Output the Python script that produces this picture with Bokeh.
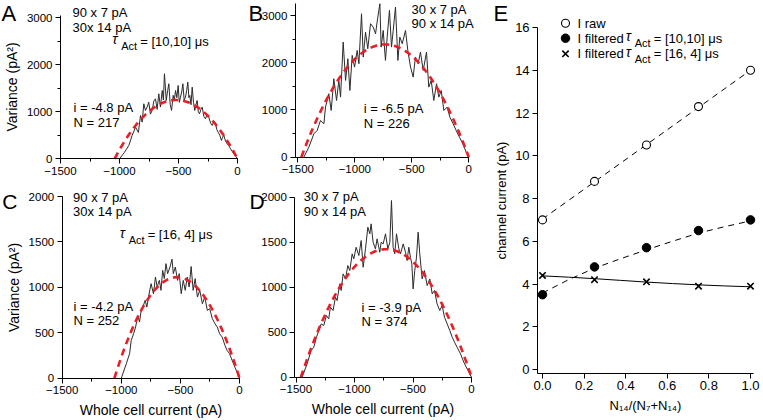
import numpy as np
from bokeh.plotting import figure
from bokeh.layouts import row, column
from bokeh.models import Label, SingleIntervalTicker, Range1d, NumeralTickFormatter
from bokeh.embed import file_html
from bokeh.resources import INLINE

FONT = "Liberation Sans"

# ---------------- data: variance vs whole-cell current (I pA, variance pA^2) -------------
A_trace = [(-1000, 0), (-960, 130), (-921, 283), (-893, 496), (-864, 672), (-840, 560), (-822, 921),
           (-808, 780), (-794, 1170), (-780, 1028), (-766, 1100), (-752, 1204), (-738, 950), (-723, 1028),
           (-709, 1230), (-695, 1276), (-681, 1050), (-667, 1383), (-653, 1100), (-638, 1453), (-628, 1250),
           (-619, 1809), (-604, 1240), (-592, 1450), (-582, 1596), (-570, 1150), (-559, 1028), (-545, 1350),
           (-535, 1250), (-525, 1453), (-514, 1300), (-503, 1560), (-493, 1200), (-483, 1311), (-473, 1420),
           (-463, 1596), (-452, 1250), (-441, 1311), (-431, 1450), (-421, 1630), (-412, 1300), (-404, 1347),
           (-394, 1150), (-384, 1523), (-373, 1200), (-362, 1028), (-352, 1150), (-342, 1240), (-332, 1000),
           (-322, 957), (-310, 1050), (-299, 1098), (-285, 900), (-271, 851), (-257, 950), (-243, 880),
           (-228, 760), (-214, 709), (-200, 800), (-186, 745), (-175, 620), (-164, 566), (-150, 500),
           (-136, 389), (-126, 460), (-116, 496), (-102, 380), (-88, 319), (-74, 280), (-59, 213),
           (-45, 160), (-31, 106), (-15, 50), (0, 0)]

B_trace = [(-1447, 0), (-1403, 213), (-1359, 495), (-1330, 566), (-1301, 778), (-1271, 707), (-1257, 1060),
           (-1228, 1343), (-1207, 990), (-1184, 1661), (-1160, 1201), (-1140, 1625), (-1125, 1272),
           (-1102, 2437), (-1081, 1625), (-1061, 2084), (-1043, 1413), (-1023, 2155), (-1002, 1908),
           (-979, 2261), (-964, 1978), (-941, 3037), (-926, 2120), (-906, 2649), (-886, 2296), (-862, 2826),
           (-839, 2755), (-818, 2614), (-798, 2967), (-780, 3249), (-769, 2331), (-751, 2684), (-731, 2049),
           (-716, 2543), (-696, 3108), (-678, 2331), (-663, 2684), (-643, 3179), (-622, 2049), (-605, 2543),
           (-584, 2402), (-555, 2684), (-535, 2261), (-511, 1908), (-488, 1696), (-468, 2120), (-444, 1978),
           (-424, 2225), (-400, 1837), (-371, 2225), (-351, 1484), (-330, 1625), (-307, 1201), (-283, 1555),
           (-263, 1272), (-242, 1413), (-219, 990), (-190, 1060), (-166, 848), (-137, 707), (-111, 566),
           (-82, 425), (-52, 283), (-23, 107), (0, 0)]

C_trace = [(-1000, 0), (-958, 158), (-930, 269), (-916, 416), (-896, 489), (-879, 563), (-860, 691),
           (-846, 618), (-832, 746), (-818, 783), (-798, 857), (-784, 783), (-762, 949), (-748, 1040),
           (-728, 930), (-711, 1114), (-697, 1004), (-678, 1077), (-664, 967), (-650, 1187), (-636, 1096),
           (-622, 1261), (-608, 1151), (-588, 1224), (-571, 1310), (-560, 1151), (-543, 1224), (-524, 1077),
           (-510, 1151), (-493, 930), (-476, 1077), (-459, 967), (-442, 1114), (-426, 1004), (-409, 1230),
           (-392, 967), (-375, 1096), (-356, 893), (-336, 967), (-314, 820), (-294, 893), (-272, 746),
           (-252, 765), (-230, 655), (-207, 599), (-188, 563), (-168, 489), (-146, 452), (-123, 361),
           (-104, 305), (-84, 269), (-62, 195), (-39, 122), (0, 0)]

D_trace = [(-1448, 0), (-1405, 148), (-1371, 296), (-1348, 333), (-1325, 444), (-1305, 518), (-1285, 592),
           (-1263, 574), (-1240, 685), (-1220, 648), (-1206, 778), (-1183, 741), (-1163, 889), (-1149, 852),
           (-1126, 1037), (-1114, 963), (-1097, 1148), (-1077, 1092), (-1057, 1241), (-1040, 1185),
           (-1020, 1370), (-1006, 1315), (-986, 1444), (-963, 1352), (-943, 1518), (-926, 1222), (-906, 1426),
           (-886, 1667), (-869, 1593), (-858, 1704), (-841, 1500), (-821, 1426), (-807, 1537), (-784, 1389),
           (-772, 1500), (-755, 1481), (-735, 1593), (-715, 1426), (-698, 1500), (-684, 1963), (-670, 1444),
           (-656, 1370), (-641, 1593), (-621, 1426), (-607, 1370), (-584, 1481), (-564, 1389), (-550, 1296),
           (-536, 1444), (-522, 1333), (-510, 1259), (-499, 981), (-485, 1185), (-470, 1333), (-456, 1611),
           (-442, 1370), (-422, 1092), (-402, 1185), (-379, 1018), (-356, 1092), (-336, 926), (-316, 963),
           (-294, 815), (-271, 741), (-251, 796), (-231, 667), (-208, 592), (-185, 518), (-165, 444),
           (-145, 389), (-123, 333), (-94, 259), (-66, 167), (-37, 92), (0, 0)]

# single-channel current i (pA) and channel number N of each parabolic fit
fit_i = [-4.8, -6.5, -4.2, -3.9]
fit_N = [217, 226, 252, 374]

# ---------------- data: panel E ----------------
E_frac = [0.0, 0.25, 0.5, 0.75, 1.0]
E_raw = [7.0, 8.8, 10.5, 12.3, 14.0]
E_filt_10_10 = [3.5, 4.8, 5.7, 6.5, 7.0]
E_filt_16_4 = [4.4, 4.2, 4.1, 3.9, 3.9]
# fitted curves
E_fit_x = [0.0, 0.125, 0.25, 0.375, 0.5, 0.625, 0.75, 0.875, 1.0]
E_fit_raw = [7.04, 7.91, 8.78, 9.65, 10.52, 11.39, 12.26, 13.13, 14.0]
E_fit_10_10 = [3.58, 4.2, 4.74, 5.18, 5.6, 6.0, 6.38, 6.68, 6.95]
E_fit_16_4 = [4.38, 4.32, 4.25, 4.17, 4.09, 4.02, 3.96, 3.91, 3.87]
E_legend = ["I raw", "I filtered", "I filtered"]


def make_fig(w, h, x_lo, x_hi, px_lo, px_hi, y_lo, y_hi, py_lo, py_hi):
    """Figure whose frame fills the canvas; x_lo/x_hi fall at pixel px_lo/px_hi from the left,
    y_lo/y_hi at pixel py_lo/py_hi from the top."""
    ux = (x_hi - x_lo) / (px_hi - px_lo)
    uy = (y_hi - y_lo) / (py_lo - py_hi)
    xr = Range1d(x_lo - px_lo * ux, x_hi + (w - px_hi) * ux)
    yr = Range1d(y_lo - (h - py_lo) * uy, y_hi + py_hi * uy)
    p = figure(width=w, height=h, x_range=xr, y_range=yr, output_backend="svg", toolbar_location=None,
               min_border=0, title=None)
    p.grid.visible = False
    p.outline_line_color = None
    p.background_fill_color = "white"
    p.border_fill_color = "white"
    return p, ux, uy


def style_axes(p, tick_size, label_size):
    for ax in p.axis:
        ax.axis_line_color = "black"
        ax.axis_line_width = 1
        ax.major_tick_line_color = "black"
        ax.minor_tick_line_color = "black"
        ax.major_tick_in = 0
        ax.major_tick_out = 5
        ax.minor_tick_in = 0
        ax.minor_tick_out = 3
        ax.major_label_text_font = FONT
        ax.major_label_text_font_size = tick_size
        ax.major_label_text_color = "black"
        ax.major_label_standoff = 3
        ax.axis_label_text_font = FONT
        ax.axis_label_text_font_size = label_size
        ax.axis_label_text_font_style = "normal"
        ax.axis_label_text_color = "black"
        ax.axis_label_standoff = 4


def lab(p, x, y, text, size="13px", style="normal", xo=0, yo=0):
    p.add_layout(Label(x=x, y=y, text=text, x_offset=xo, y_offset=yo, text_font=FONT,
                       text_font_size=size, text_font_style=style, text_color="black",
                       text_align="left", text_baseline="middle"))


def tau(p, x, y, rest):
    lab(p, x, y, "τ", size="14px", style="italic", yo=2)
    lab(p, x, y, "Act", size="11px", xo=9, yo=-5)
    lab(p, x, y, rest, xo=28)


def variance_panel(trace, i_ch, n_ch, w, h, ax_x0, px0, px1, y_ref, py0, py1, ax_y1, y_int, y_minor,
                   xlabel=None, ylabel=None):
    p, ux, uy = make_fig(w, h, -1500, 0, px0, px1, 0, y_ref, py0, py1)
    cur = [t[0] for t in trace]
    var = [t[1] for t in trace]
    p.line(cur, var, line_color="#2b2b2b", line_width=1)
    I_fit = np.linspace(i_ch * n_ch, 0, 150)
    p.line(I_fit, i_ch * I_fit - I_fit ** 2 / n_ch, line_color="#ec1c24", line_width=2.6, line_dash="7 5")
    p.xaxis.ticker = SingleIntervalTicker(interval=500, num_minor_ticks=2)
    p.yaxis.ticker = SingleIntervalTicker(interval=y_int, num_minor_ticks=y_minor)
    p.xaxis.fixed_location = 0
    p.yaxis.fixed_location = ax_x0
    p.xaxis.bounds = (ax_x0, 0)
    p.yaxis.bounds = (0, ax_y1)
    style_axes(p, "11.5px", "14px")
    if y_minor < 2:
        p.yaxis.minor_tick_line_color = None
    if xlabel:
        p.xaxis.axis_label = xlabel
    if ylabel:
        p.yaxis.axis_label = ylabel
    return p


# ---------------- panels A-D ----------------
pA = variance_panel(A_trace, fit_i[0], fit_N[0], 247, 188, -1500, 60, 237, 3050, 158.3, 14.9, 3050, 1000, 2,
                    ylabel="Variance (pA²)")
lab(pA, -2000, 3080, "A", size="22px")
lab(pA, -1398, 3113, "90 x 7 pA")
lab(pA, -1398, 2794, "30x 14 pA")
tau(pA, -1062, 2496, "= [10,10] μs")
lab(pA, -1390, 1085, "i = -4.8 pA")
lab(pA, -1390, 779, "N = 217")

pB = variance_panel(B_trace, fit_i[1], fit_N[1], 243, 188, -1521, 50.3, 221.3, 3000, 156.7, 15.0, 3250, 1000, 2)
lab(pB, -1932, 3035, "B", size="22px")
lab(pB, -502, 3122, "30 x 7 pA")
lab(pB, -502, 2826, "90 x 14 pA")
lab(pB, -921, 1025, "i = -6.5 pA")
lab(pB, -921, 720, "N = 226")

pC = variance_panel(C_trace, fit_i[2], fit_N[2], 247, 230, -1500, 61.7, 239, 2000, 189.7, 8.0, 2000, 500, 0,
                    xlabel="Whole cell current (pA)", ylabel="Variance (pA²)")
lab(pC, -2008, 1950, "C", size="21px")
lab(pC, -1408, 1990, "90 x 7 pA")
lab(pC, -1408, 1830, "30x 14 pA")
tau(pC, -1014, 1581, "= [16, 4] μs")
lab(pC, -1405, 790, "i = -4.2 pA")
lab(pC, -1405, 636, "N = 252")

pD = variance_panel(D_trace, fit_i[3], fit_N[3], 243, 230, -1510, 48.5, 224, 2000, 188.7, 8.7, 2000, 500, 0,
                    xlabel="Whole cell current (pA)")
lab(pD, -1898, 1950, "D", size="21px")
lab(pD, -1434, 2005, "30 x 7 pA")
lab(pD, -1434, 1845, "90 x 14 pA")
lab(pD, -940, 778, "i = -3.9 pA")
lab(pD, -940, 622, "N = 374")

# ---------------- panel E ----------------
EW, EH = 271, 418
pE, eux, euy = make_fig(EW, EH, 0.0, 1.0, 52.0, 260.0, 0.0, 16.0, 369.0, 27.0)
pE.line(E_fit_x, E_fit_raw, line_color="black", line_width=1, line_dash="6 5")
pE.line(E_fit_x, E_fit_10_10, line_color="black", line_width=1, line_dash="6 5")
pE.line(E_fit_x, E_fit_16_4, line_color="black", line_width=1)
raw_style = dict(marker="circle", size=8, fill_color="white", line_color="black", line_width=1.1)
f1_style = dict(marker="circle", size=8.5, fill_color="black", line_color="black")
f2_style = dict(marker="x", size=9, line_color="black", line_width=1.6)
pE.scatter(E_frac, E_raw, **raw_style)
pE.scatter(E_frac, E_filt_10_10, **f1_style)
pE.scatter(E_frac, E_filt_16_4, **f2_style)
pE.xaxis.ticker = SingleIntervalTicker(interval=0.2, num_minor_ticks=0)
pE.yaxis.ticker = SingleIntervalTicker(interval=2, num_minor_ticks=0)
pE.xaxis.formatter = NumeralTickFormatter(format="0.0")
style_axes(pE, "13px", "13px")
pE.xaxis.minor_tick_line_color = None
pE.yaxis.minor_tick_line_color = None
E_ax_x0, E_ax_y0 = -0.0236, -0.187
pE.xaxis.fixed_location = E_ax_y0
pE.yaxis.fixed_location = E_ax_x0
pE.xaxis.bounds = (E_ax_x0, 1.0144)
pE.yaxis.bounds = (E_ax_y0, 16)
pE.yaxis.axis_label = "channel current (pA)"
pE.xaxis.axis_label = "N₁₄/(N₇+N₁₄)"
pE.yaxis.axis_label_standoff = 3

# legend (keys placed by pixel layout inside panel E)
key_px = 75                       # key centre, px from left of panel E
row_px = [22.7, 37.7, 53.3]       # row centres, px from top of panel E
key_x = pE.x_range.start + key_px * eux
row_y = [pE.y_range.end - r * euy for r in row_px]
for style, ry, txt in zip([raw_style, f1_style, f2_style], row_y, E_legend):
    pE.scatter([key_x], [ry], **style)
    lab(pE, key_x, ry, txt, xo=12)
tau(pE, 0.40, row_y[1], "= [10,10] μs")
tau(pE, 0.40, row_y[2], "= [16, 4] μs")
lab(pE, -0.236, 16.66, "E", size="22px")

layout = row(column(pA, pC), column(pB, pD), pE)
open("out.html", "w").write(file_html(layout, INLINE))
